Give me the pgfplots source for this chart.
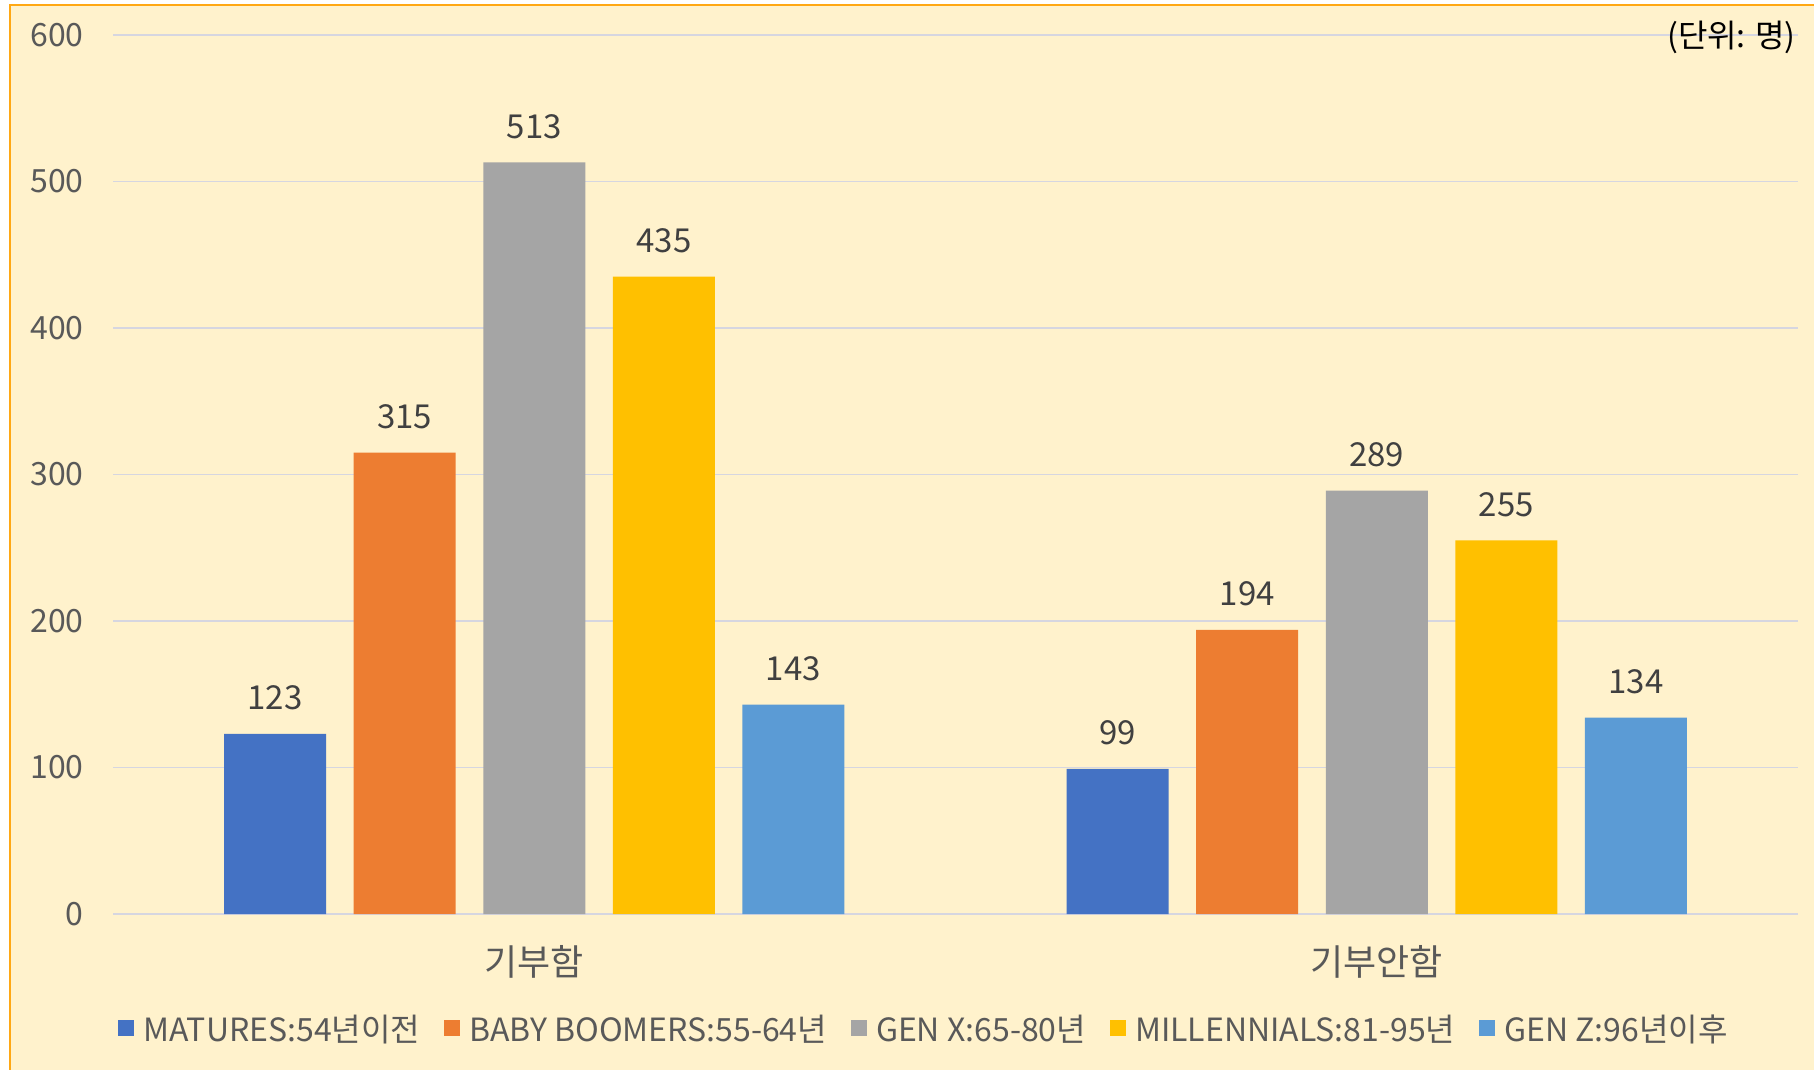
\documentclass[border=0pt]{standalone}
\usepackage{fontspec}
\setmainfont{Noto Sans CJK KR}
\usepackage{pgfplots}
\pgfplotsset{compat=1.18}
\definecolor{cBlue}{HTML}{4472C4}
\definecolor{cOrange}{HTML}{ED7D31}
\definecolor{cGray}{HTML}{A5A5A5}
\definecolor{cGold}{HTML}{FFC000}
\definecolor{cLBlue}{HTML}{5B9BD5}
\definecolor{bgCream}{HTML}{FFF2CC}
\definecolor{frameOr}{RGB}{255,168,20}
\definecolor{gridC}{RGB}{214,214,224}
\definecolor{txtG}{HTML}{595959}
\definecolor{txtD}{HTML}{404040}
\begin{document}
\begin{tikzpicture}[x=0.5pt,y=0.5pt]
\path[use as bounding box, fill=white] (0,0) rectangle (1814,1070);
\fill[bgCream] (10,0) rectangle (1814,1065);
\draw[frameOr, line width=1.2pt] (10,0) -- (10,1065) -- (1814,1065);
\begin{axis}[
  at={(56.5pt,78pt)}, anchor=south west,
  scale only axis, width=842.5pt, height=439.5pt,
  ybar=13.8pt, bar width=51pt,
  xmin=-0.5, xmax=1.5, ymin=0, ymax=600,
  xtick={0,1}, xticklabels={기부함,기부안함},
  ytick={0,100,...,600},
  axis line style={draw=none}, tick style={draw=none},
  ymajorgrids, grid style={gridC, line width=0.9pt},
  /pgf/number format/assume math mode=true,
  yticklabel style={font=\fontsize{16}{19}\selectfont, text=txtG, anchor=east, inner sep=0pt, xshift=-14.5pt},
  xticklabel style={font=\fontsize{18}{21}\selectfont, text=txtG, anchor=center, inner sep=0pt, yshift=-19.5pt},
  nodes near coords,
  every node near coord/.append style={font=\fontsize{16.5}{19}\selectfont, text=txtD, anchor=center, inner sep=0pt, yshift=18pt},
  legend columns=5,
  legend style={at={(0.4807,-0.132)}, anchor=center, draw=none, fill=none,
    font=\fontsize{16}{19}\selectfont, text=txtG,
    nodes={inner sep=0pt}, column sep=4.5pt,
    /tikz/every even column/.append style={column sep=12pt}},
  legend image code/.code={\fill[#1] (0pt,-3pt) rectangle (8pt,5pt);},
]
\addplot[fill=cBlue, draw=none] coordinates {(0,123) (1,99)};
\addplot[fill=cOrange, draw=none] coordinates {(0,315) (1,194)};
\addplot[fill=cGray, draw=none] coordinates {(0,513) (1,289)};
\addplot[fill=cGold, draw=none] coordinates {(0,435) (1,255)};
\addplot[fill=cLBlue, draw=none] coordinates {(0,143) (1,134)};
\legend{MATURES:54년이전, BABY BOOMERS:55-64년, GEN X:65-80년, MILLENNIALS:81-95년, GEN Z:96년이후}
\end{axis}
\node[anchor=east, inner sep=0pt, font=\fontsize{16}{19}\selectfont, text=black] at (1796,1033) {(단위: 명)};
\end{tikzpicture}
\end{document}
